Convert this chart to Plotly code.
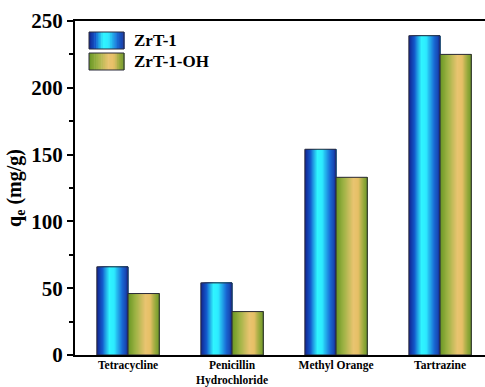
import plotly.graph_objects as go

# Adsorption capacities of the two MOFs for each pollutant
categories = ["Tetracycline", "Penicillin<br>Hydrochloride", "Methyl Orange", "Tartrazine"]
zrt1 = [66, 54, 154, 239]
zrt1_oh = [46, 32.5, 133, 225]
series_names = ["ZrT-1", "ZrT-1-OH"]

# Horizontal gradient stops (position, colour) for each series
blue_stops = [(0.0, (18, 34, 140)), (0.18, (20, 90, 205)), (0.40, (48, 244, 255)),
              (0.55, (46, 236, 255)), (0.80, (26, 110, 215)), (1.0, (22, 52, 160))]
gold_stops = [(0.0, (104, 150, 36)), (0.25, (160, 180, 70)), (0.55, (232, 196, 112)),
              (0.70, (232, 192, 104)), (0.88, (150, 170, 60)), (1.0, (112, 152, 38))]

FONT = "Liberation Serif"
BAR_W = 0.3
N_SLICES = 26


def grad_color(stops, t):
    for (p0, c0), (p1, c1) in zip(stops[:-1], stops[1:]):
        if p0 <= t <= p1:
            f = (t - p0) / (p1 - p0) if p1 > p0 else 0
            c = [round(a + (b - a) * f) for a, b in zip(c0, c1)]
            return f"rgb({c[0]},{c[1]},{c[2]})"
    c = stops[-1][1]
    return f"rgb({c[0]},{c[1]},{c[2]})"


fig = go.Figure()

for values, stops, base in [(zrt1, blue_stops, -BAR_W), (zrt1_oh, gold_stops, 0.0)]:
    # stacked slices, each reaching to the bar's right edge, so no seams appear
    for k in range(N_SLICES):
        t0 = k / N_SLICES
        fig.add_trace(go.Bar(
            x=categories, y=values,
            offset=base + BAR_W * t0, width=BAR_W * (1 - t0),
            marker=dict(color=grad_color(stops, (k + 0.5) / N_SLICES), line=dict(width=0)),
            showlegend=False, hoverinfo="skip",
        ))
    # outline
    fig.add_trace(go.Bar(
        x=categories, y=values, offset=base, width=BAR_W,
        marker=dict(color="rgba(0,0,0,0)", line=dict(color="#2a2a3a", width=1)),
        showlegend=False,
    ))

# Legend drawn as gradient swatches with labels (paper coordinates)
L, T, PW, PH = 75, 21, 410, 334
def px_x(px):
    return (px - L) / PW
def px_y(py):
    return (T + PH - py) / PH

shapes = []
annotations = []
for i, (name, stops) in enumerate(zip(series_names, [blue_stops, gold_stops])):
    x0, x1 = 89, 124
    y0, y1 = 32 + i * 21, 49 + i * 21
    n = 20
    for k in range(n):
        shapes.append(dict(type="rect", xref="paper", yref="paper",
                           x0=px_x(x0 + (x1 - x0) * k / n), x1=px_x(x0 + (x1 - x0) * (k + 1) / n + 0.6),
                           y0=px_y(y1), y1=px_y(y0),
                           fillcolor=grad_color(stops, (k + 0.5) / n), line=dict(width=0), layer="above"))
    shapes.append(dict(type="rect", xref="paper", yref="paper",
                       x0=px_x(x0), x1=px_x(x1), y0=px_y(y1), y1=px_y(y0),
                       line=dict(color="#2a2a3a", width=1), layer="above"))
    annotations.append(dict(text=name, xref="paper", yref="paper",
                            x=px_x(132), y=px_y((y0 + y1) / 2), xanchor="left", yanchor="middle",
                            showarrow=False, font=dict(family=FONT, size=17, color="black", weight="bold")))

fig.update_layout(
    width=485, height=387,
    margin=dict(l=L, r=0, t=T, b=387 - T - PH),
    paper_bgcolor="white", plot_bgcolor="white",
    barmode="overlay",
    showlegend=False,
    shapes=shapes, annotations=annotations,
    xaxis=dict(
        range=[-0.51, 3.432], showline=True, linecolor="black", linewidth=2, mirror=True,
        ticks="", showgrid=False, zeroline=False, automargin=False, ticklabelstandoff=-2,
        tickfont=dict(family=FONT, size=11.5, color="black", weight="bold"),
    ),
    yaxis=dict(
        range=[0, 250], dtick=50, showline=True, linecolor="black", linewidth=2,
        ticks="outside", ticklen=6, tickwidth=2, tickcolor="black",
        minor=dict(dtick=25, ticks="outside", ticklen=4, tickwidth=2, tickcolor="black"),
        showgrid=False, zeroline=False, automargin=False,
        tickfont=dict(family=FONT, size=21, color="black", weight="bold"),
        title=dict(text="q<sub>e</sub> (mg/g)", standoff=4,
                   font=dict(family=FONT, size=20, color="black", weight="bold")),
    ),
)

fig.write_html("out.html")
